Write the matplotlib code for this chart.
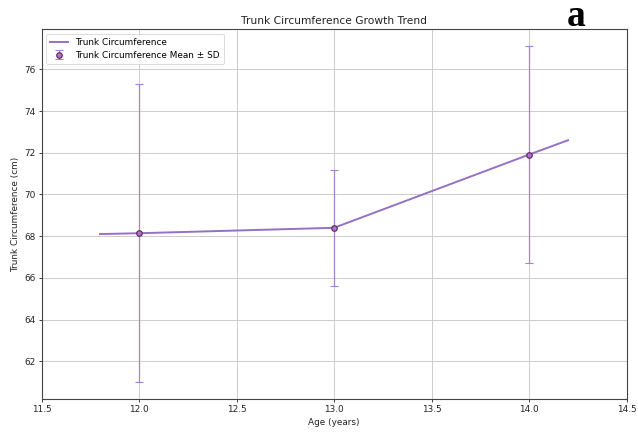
import matplotlib
matplotlib.use("Agg")
import matplotlib.pyplot as plt

# Data
ages = [12.0, 13.0, 14.0]
means = [68.14, 68.40, 71.91]
sds = [7.15, 2.78, 5.21]
trend_x = [11.8, 12.0, 13.0, 14.0, 14.2]
trend_y = [68.10, 68.14, 68.40, 71.91, 72.60]
x_ticks = [11.5, 12.0, 12.5, 13.0, 13.5, 14.0, 14.5]
y_ticks = [62, 64, 66, 68, 70, 72, 74, 76]

plt.rcParams['font.family'] = ['DejaVu Sans']

fig = plt.figure(figsize=(6.38, 4.36), dpi=100)
ax = fig.add_axes([41.5 / 638, 1 - 399 / 436, (626.5 - 41.5) / 638, (399 - 29.3) / 436])

line_color = '#9470c6'
err_color = '#a383d0'

ax.plot(trend_x, trend_y, color=line_color, lw=1.4, label='Trunk Circumference', zorder=3)
ax.errorbar(ages, means, yerr=sds, fmt='o', color=err_color, ecolor=err_color,
            elinewidth=0.9, capsize=3.2, capthick=0.9,
            markerfacecolor='#bf6cc8', markeredgecolor='#4a2a55', markersize=4,
            markeredgewidth=0.8, label='Trunk Circumference Mean ± SD', zorder=4)

ax.set_xlim(11.5, 14.5)
ax.set_ylim(60.19, 77.92)
ax.set_xticks(x_ticks)
ax.set_yticks(y_ticks)
ax.tick_params(labelsize=6.4, length=2.5, width=0.6, colors='#222222', pad=2)
ax.grid(True, color='#cccccc', lw=0.7)
ax.set_axisbelow(True)
for s in ax.spines.values():
    s.set_color('#444444')
    s.set_linewidth(0.8)

ax.set_title('Trunk Circumference Growth Trend', fontsize=7.7, pad=4, color='#222222')
ax.set_xlabel('Age (years)', fontsize=6.4, labelpad=3, color='#222222')
ax.set_ylabel('Trunk Circumference (cm)', fontsize=6.4, labelpad=3, color='#222222')

leg = ax.legend(loc='upper left', fontsize=6.4, frameon=True, borderpad=0.5,
                handlelength=2.0, labelspacing=0.4)
leg.get_frame().set_edgecolor('#cccccc')
leg.get_frame().set_linewidth(0.6)

fig.text(576 / 638, 1 - 26.5 / 436, 'a', fontsize=27, fontweight='bold',
         family=['Liberation Serif', 'DejaVu Serif'], ha='center', va='baseline')

fig.savefig('out.png', dpi=100)
